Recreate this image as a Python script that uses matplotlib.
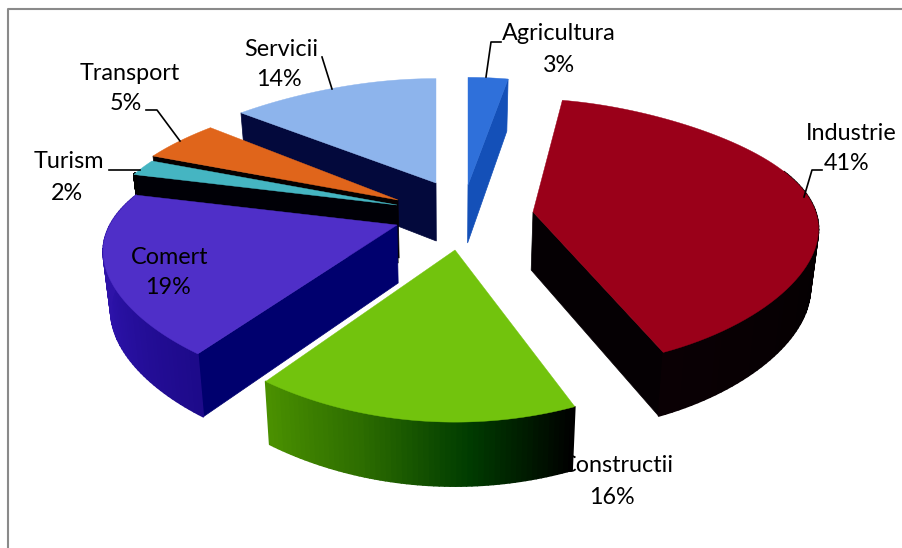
import numpy as np
import matplotlib
matplotlib.use("Agg")
import matplotlib.pyplot as plt
from matplotlib.collections import PolyCollection
from matplotlib.colors import LinearSegmentedColormap

plt.rcParams["font.family"] = ["Lato", "DejaVu Sans"]

# data, clockwise from 12 o'clock
labels = ["Agricultura", "Industrie", "Constructii", "Comert", "Turism", "Transport", "Servicii"]
values = [3, 41, 16, 19, 2, 5, 14]

# styles
top_colors = ["#2f70da", "#9a0019", "#72c30d", "#4f2fc8", "#45b5c2", "#e0651b", "#8db4ec"]
edge_colors = ["#1450b8", "#050003", "#000000", "#00006e", "#000006", "#050000", "#03093c"]
arc_colors = [
    ["#1450b8", "#1450b8"],
    ["#000000", "#0a0004"],
    ["#000000", "#003c00", "#2c6c00", "#4a9000"],
    ["#1d0a8a", "#2c12a8", "#3015a8"],
    ["#000000", "#000000"],
    ["#000000", "#000000"],
    ["#03093c", "#03093c"],
]
# explosion of every slice, px from the pie centre
explode = [(18, -28), (83, -1), (5, 37), (-53, 12), (-53, -8), (-52, -13), (-14, -30)]
# per slice perspective fix: x scale, shear, y shift, y scale
warp = [
    (1, 0, 0, 1),
    (0.97, 0.09, -10, 0.96),
    (1, 0, 0, 1),
    (1, -0.075, 0, 0.98),
    (1, 0, 0, 1),
    (1, 0, 0, 1),
    (1.04, 0, 0, 0.97),
]
draw_order = [0, 6, 5, 4, 3, 1, 2]

CENTER = (450, 213)
RX, RY = 287, 130
LEAN = 0.022


def rim(theta, apex, w):
    u, v = np.sin(theta), np.cos(theta)
    sx = 1 - 0.2 * v - 0.06 * v**2
    sy = 1 - 0.248 * v + 0.076 * v**2
    dx, dy = RX * u * sx, -RY * v * sy
    return apex[0] + dx * w[0] + w[1] * dy, apex[1] + dy * w[3] + w[2]


def depth(theta):
    return 58 - 6 * np.cos(theta)


def drop(x):
    # verticals converge a little towards the bottom
    return x - LEAN * (x - CENTER[0])


def draw_edge(ax, theta, apex, w, color, z):
    x, y = rim(theta, apex, w)
    pts = [apex, (x, y), (drop(x), y + depth(theta)), (drop(apex[0]), apex[1] + 58)]
    ax.fill(*zip(*pts), color=color, lw=0.5, zorder=z)


fig = plt.figure(figsize=(9.02, 5.48), dpi=100)
ax = fig.add_axes([0, 0, 1, 1])
ax.set_xlim(0, 902)
ax.set_ylim(548, 0)
ax.axis("off")

# chart frame, only left and top survive in the picture
ax.plot([8, 8, 902], [548, 9, 9], color="#8a8a8a", lw=1.5, zorder=1)

edges = np.radians(np.cumsum([0] + values) * 3.6)
for n, i in enumerate(draw_order):
    z = 3 + n
    start, end = edges[i], edges[i + 1]
    apex = (CENTER[0] + explode[i][0], CENTER[1] + explode[i][1])
    w = warp[i]

    if end < np.pi:
        draw_edge(ax, end, apex, w, edge_colors[i], z)
    if start > np.pi:
        draw_edge(ax, start, apex, w, edge_colors[i], z)

    # outer wall, only the part that faces the viewer
    a0, a1 = max(start, np.radians(75)), min(end, np.radians(285))
    if a1 > a0:
        t = np.linspace(a0, a1, 60)
        x, y = rim(t, apex, w)
        d = depth(t)
        bx = drop(x)
        quads = [
            [(x[k], y[k]), (x[k + 1], y[k + 1]), (bx[k + 1], y[k + 1] + d[k + 1]), (bx[k], y[k] + d[k])]
            for k in range(len(t) - 1)
        ]
        cmap = LinearSegmentedColormap.from_list("wall", arc_colors[i])
        cols = cmap(np.linspace(0, 1, len(quads)))
        ax.add_collection(PolyCollection(quads, facecolors=cols, edgecolors=cols, linewidths=1.2, zorder=z))

    t = np.linspace(start, end, 80)
    x, y = rim(t, apex, w)
    ax.fill(np.r_[apex[0], x], np.r_[apex[1], y], color=top_colors[i], lw=0.3, zorder=z + 0.5)

# leader lines
leaders = [
    ([486, 491, 501], [77, 42, 42]),
    ([804, 812, 822], [197, 170, 170]),
    ([140, 109], [170, 170]),
    ([180, 157, 146], [141, 110, 110]),
    ([332, 322], [89, 57]),
]
for lx, ly in leaders:
    ax.plot(lx, ly, color="black", lw=1.2, zorder=20)

# text of the labels: (name x, name y, pct x, pct y, zorder)
places = [
    (559, 33, 559, 65, 20),
    (851, 133, 847, 163, 20),
    (617, 466, 612, 497, 2),
    (170, 257, 168, 287, 20),
    (69, 162, 67, 193, 20),
    (130, 73, 126, 104, 20),
    (281, 49, 279, 80, 20),
]
for name, val, p in zip(labels, values, places):
    ax.text(p[0], p[1], name, ha="center", va="center", fontsize=16.8, color="black", zorder=p[4])
    ax.text(p[2], p[3], f"{val}%", ha="center", va="center", fontsize=16.8, color="black", zorder=p[4])

fig.savefig("out.png", dpi=100, facecolor="white")
